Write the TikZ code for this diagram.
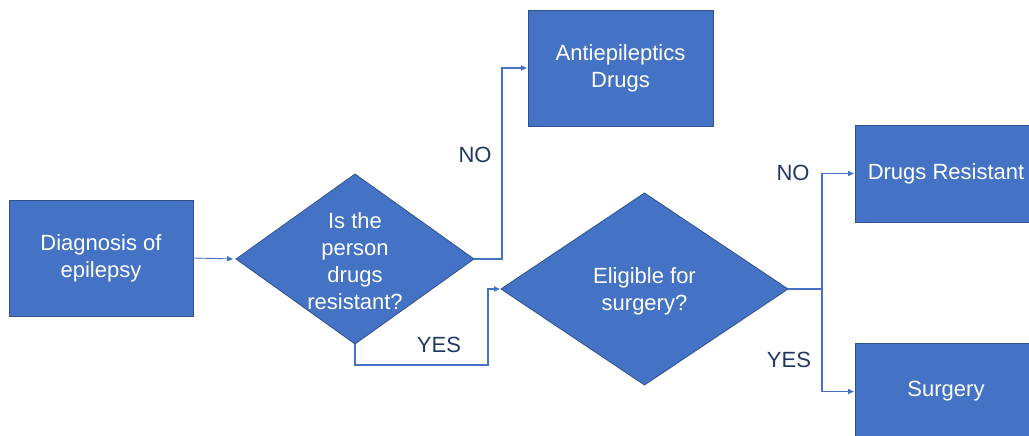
\documentclass[tikz,border=0pt]{standalone}
\usepackage{fontspec}
\setmainfont{Liberation Sans}
\usetikzlibrary{arrows.meta, positioning, shapes.geometric, calc}

\definecolor{boxblue}{HTML}{4472C4}
\definecolor{boxedge}{HTML}{2F528F}
\definecolor{lblnavy}{HTML}{203864}

\tikzset{
  procbox/.style={rectangle, fill=boxblue, draw=boxedge, line width=0.8pt,
    text=white, align=center, inner sep=0pt, outer sep=0pt,
    font=\fontsize{22}{27}\selectfont},
  decision/.style={diamond, fill=boxblue, draw=boxedge, line width=0.8pt,
    inner sep=0pt, outer sep=0pt},
  qtext/.style={text=white, align=center, yshift=-2.5pt,
    font=\fontsize{22}{27}\selectfont},
  flow/.style={draw=boxblue, line width=1.6pt,
    -{Triangle[length=6pt,width=5pt]}, shorten >=1pt},
  answer/.style={text=lblnavy, font=\fontsize{22}{26}\selectfont}
}

\begin{document}
\begin{tikzpicture}[x=1pt, y=-1pt]
  \useasboundingbox[fill=white] (0,0) rectangle (1029,436);

  % Boxes
  \node[procbox, minimum width=184pt, minimum height=116pt] (diag) at (101,258)
    {Diagnosis of\\epilepsy};
  \node[procbox, minimum width=185pt, minimum height=116pt] (anti) at (620.5,68)
    {Antiepileptics\\Drugs};
  \node[procbox, minimum width=182pt, minimum height=97pt] (res) at (946,173.5)
    {Drugs Resistant};
  \node[procbox, minimum width=182pt, minimum height=97pt] (surg) at (946,391.5)
    {Surgery};

  % Decisions
  \node[decision, minimum width=238pt, minimum height=170pt,
    label={[qtext]center:Is the\\person\\drugs\\resistant?}] (q1) at (355,259) {};
  \node[decision, minimum width=287pt, minimum height=192pt,
    label={[qtext]center:Eligible for\\surgery?}] (q2) at (644.5,289) {};

  % Connectors
  \draw[flow, line width=0.9pt, shorten >=3pt] (diag.east) -- (q1.west);
  \draw[flow] (q1.east) -- ++(28,0) |- (anti.west);
  \draw[flow] (q1.south) -- ++(0,21) -| ([xshift=-13pt]q2.west) -- (q2.west);
  \coordinate (split) at ([xshift=34pt]q2.east);
  \draw[flow] (q2.east) -- (split) |- (res.west);
  \draw[flow] (split) |- (surg.west);

  % Answers
  \node[answer] (no1) at (475,155) {NO};
  \node[answer] (yes1) at (439,345) {YES};
  \node[answer] (no2) at (793,173) {NO};
  \node[answer] (yes2) at (789,360) {YES};
\end{tikzpicture}
\end{document}
